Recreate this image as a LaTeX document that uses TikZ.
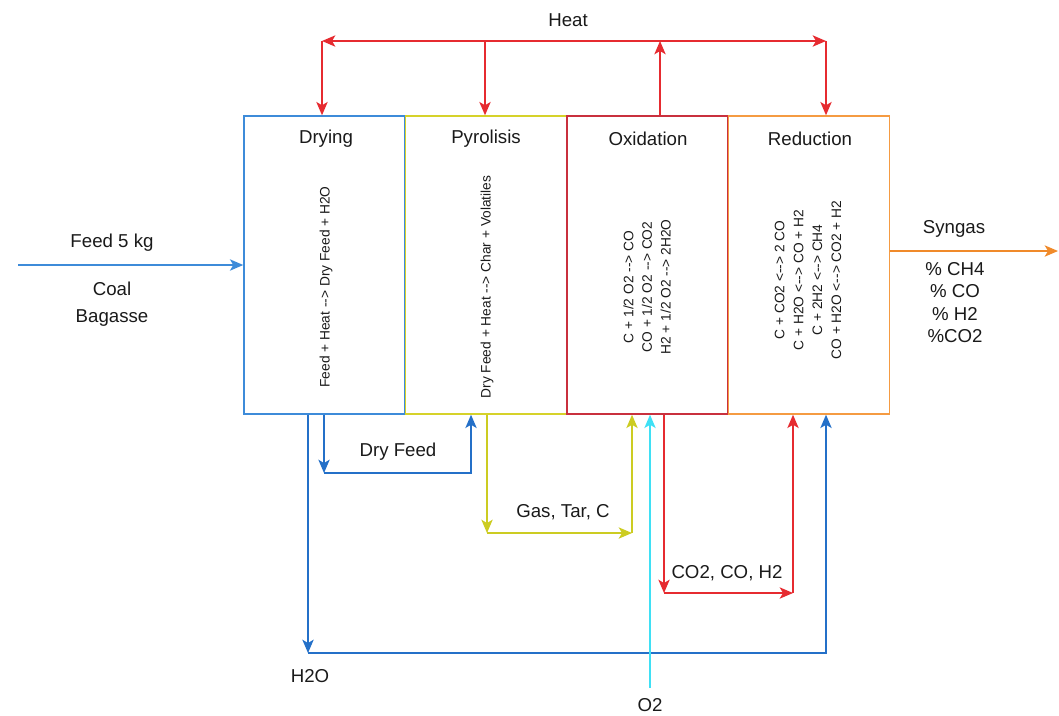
\documentclass[tikz,border=0pt]{standalone}
\usepackage{fontspec}
\setmainfont{Liberation Sans}
\usetikzlibrary{arrows.meta}
\definecolor{drycol}{HTML}{3D8BD9}
\definecolor{pyrcol}{HTML}{D6D22A}
\definecolor{oxicol}{HTML}{C9303E}
\definecolor{redcol}{HTML}{F59B42}
\definecolor{heatcol}{HTML}{E62B30}
\definecolor{bluearr}{HTML}{2470C8}
\definecolor{cyanarr}{HTML}{3FE0F5}
\definecolor{yelarr}{HTML}{CCCC22}
\definecolor{synarr}{HTML}{F08A2A}
\definecolor{txt}{HTML}{1A1A1A}
\tikzset{
  tip/.tip={Stealth[length=10pt,width=8.5pt,inset=2.5pt]},
  zone/.style={draw, line width=1.1pt, minimum width=120.75pt, minimum height=223.5pt, inner sep=0pt, fill=white},
  conn/.style={line width=1.1pt, -tip},
  lbl/.style={text=txt, font=\fontsize{14}{17}\selectfont, inner sep=0pt},
  eqn/.style={text=txt, rotate=90, align=center, inner sep=0pt, font=\fontsize{10.3}{14}\selectfont},
}
\begin{document}
\begin{tikzpicture}[x=0.75pt,y=-0.75pt]
\useasboundingbox (0,0) rectangle (1059,715);
% zones
\node[zone, draw=drycol] (dry) at (324.5,265) {};
\node[zone, draw=pyrcol] (pyr) at (486,265) {};
\node[zone, draw=oxicol] (oxi) at (647.5,265) {};
\node[zone, draw=redcol] (red) at (809,265) {};
% titles
\node[lbl] (tdry) at (326,139) {Drying};
\node[lbl] (tpyr) at (486,139) {Pyrolisis};
\node[lbl] (toxi) at (648,139) {Oxidation};
\node[lbl] (tred) at (810,139) {Reduction};
% equations
\node[eqn] (edry) at (326,287) {Feed + Heat {-}{-}> Dry Feed + H2O};
\node[eqn] (epyr) at (487,287) {Dry Feed + Heat {-}{-}> Char + Volatiles};
\node[eqn] (eoxi) at (647,287) {C + 1/2 O2 {-}{-}> CO\\CO + 1/2 O2 {-}{-}> CO2\\H2 + 1/2 O2 {-}{-}> 2H2O};
\node[eqn, font=\fontsize{10.3}{14.2}\selectfont] (ered) at (808,280) {C + CO2 <{-}{-}> 2 CO\\C + H2O <{-}{-}> CO + H2\\C + 2H2 <{-}{-}> CH4\\CO + H2O <{-}{-}> CO2 + H2};
% heat
\node[lbl] (heat) at (568,20) {Heat};
\coordinate (hl) at (322,41);
\coordinate (hm) at (485,41);
\coordinate (ho) at (660,41);
\coordinate (hr) at (826,41);
\draw[heatcol, line width=1.1pt, tip-tip] (hl) -- (hr);
\draw[heatcol, conn] (hl) -- (hl |- dry.north);
\draw[heatcol, conn] (hm) -- (hm |- pyr.north);
\draw[heatcol, conn] (ho |- oxi.north) -- (ho);
\draw[heatcol, conn] (hr) -- (hr |- red.north);
% feed
\coordinate (fs) at (18,265);
\draw[drycol, conn] (fs) -- (dry.west);
\node[lbl] (feed) at (112,243) {Feed 5 kg};
\node[lbl] (coal) at (112,289) {Coal};
\node[lbl] (bag) at (112,318) {Bagasse};
% syngas
\coordinate (ss) at (890,251);
\coordinate (se) at (1058,251);
\draw[synarr, conn] (ss) -- (se);
\node[lbl] (syn) at (954,229) {Syngas};
\node[lbl, align=center, font=\fontsize{14}{16.9}\selectfont] (comp) at (955,302.5) {\% CH4\\\% CO\\\% H2\\\%CO2};
% dry feed
\coordinate (d1) at (324,473);
\coordinate (d2) at (471,473);
\draw[bluearr, conn] (d1 |- dry.south) -- (d1);
\draw[bluearr, conn] (d1) -- (d2) -- (d2 |- pyr.south);
\node[lbl] (ldf) at (398,452) {Dry Feed};
% gas tar c
\coordinate (g1) at (487,533);
\coordinate (g2) at (632,533);
\draw[yelarr, conn] (g1 |- pyr.south) -- (g1);
\draw[yelarr, conn] (g1) -- (g2);
\draw[yelarr, conn] (g2) -- (g2 |- oxi.south);
\node[lbl] (lgt) at (563,512) {Gas, Tar, C};
% co2 co h2
\coordinate (c1) at (664,593);
\coordinate (c2) at (793,593);
\draw[heatcol, conn] (c1 |- oxi.south) -- (c1);
\draw[heatcol, conn] (c1) -- (c2);
\draw[heatcol, conn] (c2) -- (c2 |- red.south);
\node[lbl] (lco) at (727,573) {CO2, CO, H2};
% h2o
\coordinate (w1) at (308,653);
\coordinate (w2) at (826,653);
\draw[bluearr, conn] (w1 |- dry.south) -- (w1);
\draw[bluearr, conn] (w1) -- (w2) -- (w2 |- red.south);
\node[lbl] (lw) at (310,676) {H2O};
% o2
\coordinate (o1) at (650,688);
\draw[cyanarr, conn] (o1) -- (o1 |- oxi.south);
\node[lbl] (lo) at (650,705) {O2};
\end{tikzpicture}
\end{document}
